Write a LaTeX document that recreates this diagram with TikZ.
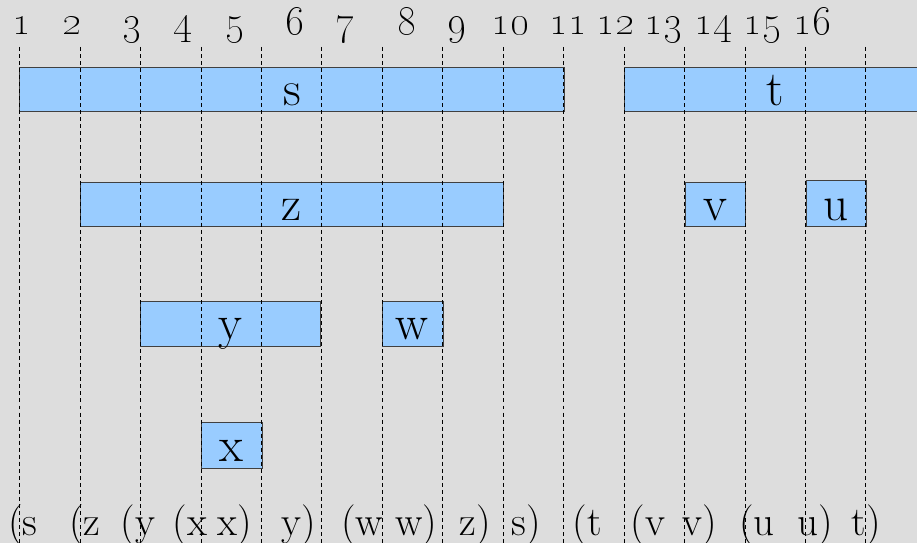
\documentclass[tikz,border=0pt]{standalone}
\usepackage{tikz}
\usetikzlibrary{positioning}
\definecolor{bggray}{RGB}{221,221,221}
\definecolor{ivblue}{RGB}{153,204,255}

\begin{document}
\begin{tikzpicture}[x=0.03cm, y=-0.03cm,
    ivbox/.style={draw=black!75, fill=ivblue, line width=0.7pt},
    ivlab/.style={anchor=base, inner sep=0pt, font=\fontsize{42}{48}\selectfont},
    num/.style={anchor=base, inner sep=0pt, font=\fontsize{36}{40}\selectfont},
    tok/.style={anchor=base, inner sep=0pt, font=\fontsize{35}{40}\selectfont},
    guide/.style={dash pattern=on 3.4pt off 2.6pt, line width=0.55pt}]
    \fill[bggray, use as bounding box] (0,0) rectangle (917,543);
    \clip (0,0) rectangle (917,543);
    % top row of positions
    \foreach \i/\xx in {1/22, 2/72, 3/132, 4/183, 5/235, 6/295, 7/345, 8/407,
        9/457, 10/510, 11/568, 12/615, 13/663, 14/713, 15/762, 16/812}
        \node[num] (n\i) at (\xx,35) {\oldstylenums{\i}};
    % intervals
    \draw[ivbox] (19.5,67) rectangle (564,111);
    \node[ivlab] (s) at (292,106) {s};
    \draw[ivbox] (624,67) rectangle (930,111);
    \node[ivlab] (t) at (775,106) {t};
    \draw[ivbox] (80,182) rectangle (503,226);
    \node[ivlab] (z) at (291,221) {z};
    \draw[ivbox] (685,182) rectangle (745,226);
    \node[ivlab] (v) at (715,221) {v};
    \draw[ivbox] (806,180) rectangle (866,226);
    \node[ivlab] (u) at (836,221) {u};
    \draw[ivbox] (140.5,301.5) rectangle (320,346);
    \node[ivlab] (y) at (230,340) {y};
    \draw[ivbox] (382,301.5) rectangle (443,346);
    \node[ivlab] (w) at (412,340) {w};
    \draw[ivbox] (201,422) rectangle (262,468);
    \node[ivlab] (x) at (231,462) {x};
    % bracket string
    \foreach \xx/\t [count=\i] in {23/{(s}, 85/{(z}, 138/{(y}, 190/{(x}, 235/{x)},
        299/{y)}, 362/{(w}, 416/{w)}, 475/{z)}, 526/{s)}, 587/{(t}, 648/{(v},
        700/{v)}, 757/{(u}, 815/{u)}, 866/{t)}}
        \node[tok] (b\i) at (\xx,535) {\t};
    % guide lines
    \foreach \k in {0,...,14}
        \draw[guide] (19.5+60.45*\k,47) -- (19.5+60.45*\k,543);
\end{tikzpicture}
\end{document}
